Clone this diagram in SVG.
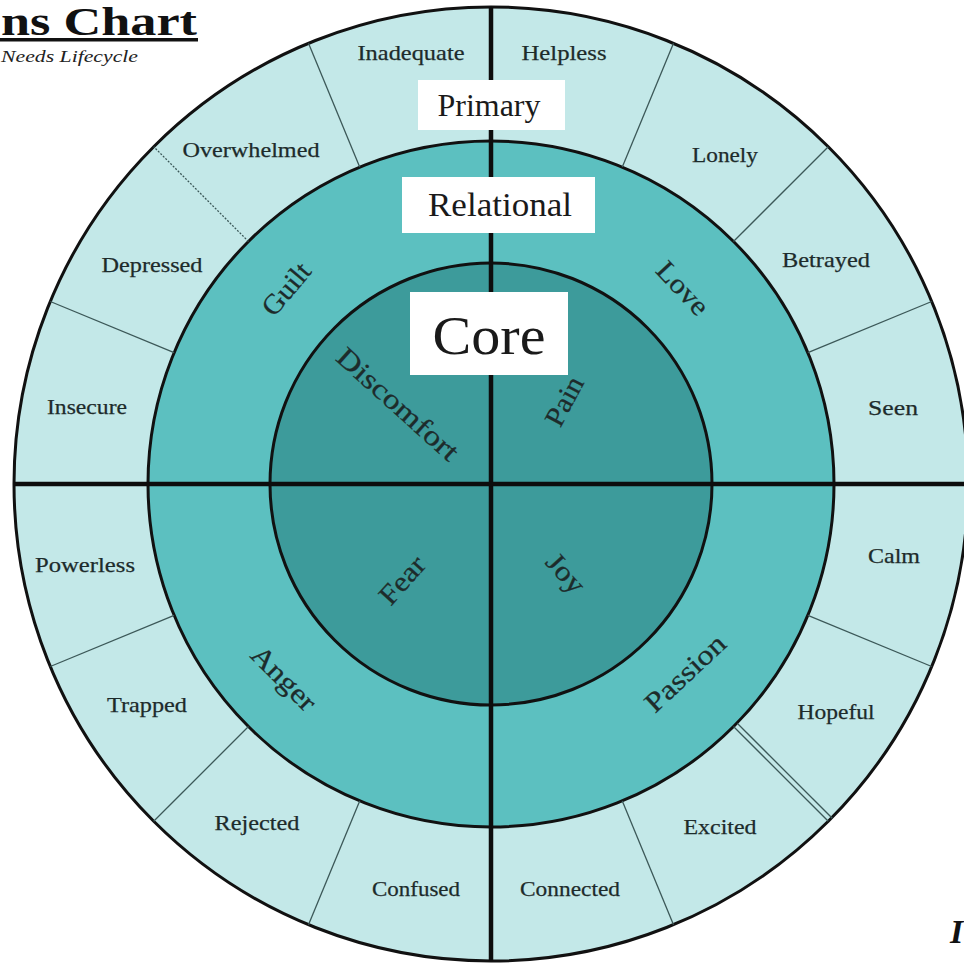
<svg xmlns="http://www.w3.org/2000/svg" width="964" height="963" viewBox="0 0 964 963">
  <style>
    .ring { stroke: #111; stroke-width: 3; }
    .outer { fill: #c3e8e8; }
    .middle { fill: #5cc0c0; }
    .inner { fill: #3d9b9b; }
    .cross { stroke: #0d0d0d; stroke-width: 4.5; fill: none; }
    .tick { stroke: #3c5858; stroke-width: 1.3; fill: none; }
    .lbl { font-family: "Liberation Serif", "Times New Roman", serif; fill: #1d2b2b; stroke: #1d2b2b; stroke-width: 0.25; text-anchor: middle; dominant-baseline: central; }
    .outer-lbl { font-size: 22px; }
    .ring-lbl { font-size: 28px; }
    .tag { fill: #ffffff; }
    .tag-text { font-family: "Liberation Serif", "Times New Roman", serif; fill: #1a1a1a; text-anchor: middle; dominant-baseline: central; }
  </style>

  <rect width="964" height="963" fill="#ffffff"/>

  <!-- title, cut at the left edge of the sheet -->
  <g id="title">
    <text x="1" y="35" font-family="Liberation Serif, Times New Roman, serif" font-weight="bold" font-size="41" textLength="196" lengthAdjust="spacingAndGlyphs" fill="#111">ns Chart</text>
    <rect x="0" y="38" width="198" height="3.5" fill="#111"/>
    <text x="1" y="62" font-family="Liberation Serif, Times New Roman, serif" font-style="italic" font-size="16" textLength="137" lengthAdjust="spacingAndGlyphs" fill="#222">Needs Lifecycle</text>
  </g>

  <!-- concentric rings -->
  <g id="wheel">
    <circle class="ring outer" cx="491" cy="484" r="477"/>
    <circle class="ring middle" cx="491" cy="484" r="343"/>
    <circle class="ring inner" cx="491" cy="484" r="221"/>
  </g>

  <!-- spokes and quadrant axes -->
  <g id="connectors">
    <line class="tick" x1="359.7" y1="167.1" x2="308.5" y2="43.3"/>
    <line class="tick" x1="248.5" y1="241.5" x2="153.7" y2="146.7" stroke-dasharray="2 1.5"/>
    <line class="tick" x1="174.1" y1="352.7" x2="50.3" y2="301.5"/>
    <line class="tick" x1="622.3" y1="167.1" x2="673.5" y2="43.3"/>
    <line class="tick" x1="733.5" y1="241.5" x2="828.3" y2="146.7"/>
    <line class="tick" x1="807.9" y1="352.7" x2="931.7" y2="301.5"/>
    <line class="tick" x1="807.9" y1="615.3" x2="931.7" y2="666.5"/>
    <line class="tick" x1="733.5" y1="726.5" x2="828.3" y2="821.3"/>
    <line class="tick" x1="737.5" y1="723.5" x2="832.3" y2="818.3"/>
    <line class="tick" x1="622.3" y1="800.9" x2="673.5" y2="924.7"/>
    <line class="tick" x1="359.7" y1="800.9" x2="308.5" y2="924.7"/>
    <line class="tick" x1="248.5" y1="726.5" x2="153.7" y2="821.3"/>
    <line class="tick" x1="174.1" y1="615.3" x2="50.3" y2="666.5"/>
    <line class="cross" x1="491" y1="7" x2="491" y2="961"/>
    <line class="cross" x1="14" y1="484" x2="964" y2="484"/>
  </g>

  <!-- outer ring: primary feelings -->
  <g id="primary-feelings">
    <text class="lbl outer-lbl" x="411" y="52" textLength="107" lengthAdjust="spacingAndGlyphs">Inadequate</text>
    <text class="lbl outer-lbl" x="564" y="52" textLength="85" lengthAdjust="spacingAndGlyphs">Helpless</text>
    <text class="lbl outer-lbl" x="251" y="149" textLength="137" lengthAdjust="spacingAndGlyphs">Overwhelmed</text>
    <text class="lbl outer-lbl" x="725" y="154" textLength="66" lengthAdjust="spacingAndGlyphs">Lonely</text>
    <text class="lbl outer-lbl" x="152" y="264" textLength="101" lengthAdjust="spacingAndGlyphs">Depressed</text>
    <text class="lbl outer-lbl" x="826" y="259" textLength="88" lengthAdjust="spacingAndGlyphs">Betrayed</text>
    <text class="lbl outer-lbl" x="87" y="406" textLength="80" lengthAdjust="spacingAndGlyphs">Insecure</text>
    <text class="lbl outer-lbl" x="893" y="407" textLength="50" lengthAdjust="spacingAndGlyphs">Seen</text>
    <text class="lbl outer-lbl" x="85" y="564" textLength="100" lengthAdjust="spacingAndGlyphs">Powerless</text>
    <text class="lbl outer-lbl" x="894" y="555" textLength="52" lengthAdjust="spacingAndGlyphs">Calm</text>
    <text class="lbl outer-lbl" x="147" y="704" textLength="80" lengthAdjust="spacingAndGlyphs">Trapped</text>
    <text class="lbl outer-lbl" x="836" y="711" textLength="77" lengthAdjust="spacingAndGlyphs">Hopeful</text>
    <text class="lbl outer-lbl" x="257" y="822" textLength="85" lengthAdjust="spacingAndGlyphs">Rejected</text>
    <text class="lbl outer-lbl" x="720" y="826" textLength="73" lengthAdjust="spacingAndGlyphs">Excited</text>
    <text class="lbl outer-lbl" x="416" y="888" textLength="88" lengthAdjust="spacingAndGlyphs">Confused</text>
    <text class="lbl outer-lbl" x="570" y="888" textLength="100" lengthAdjust="spacingAndGlyphs">Connected</text>
  </g>

  <!-- middle ring: relational feelings -->
  <g id="relational-feelings">
    <text class="lbl ring-lbl" transform="translate(286 289) rotate(-50)" textLength="60" lengthAdjust="spacingAndGlyphs">Guilt</text>
    <text class="lbl ring-lbl" transform="translate(683 288) rotate(47)" textLength="63" lengthAdjust="spacingAndGlyphs">Love</text>
    <text class="lbl ring-lbl" transform="translate(284 678) rotate(45)" textLength="80" lengthAdjust="spacingAndGlyphs">Anger</text>
    <text class="lbl ring-lbl" transform="translate(685 673) rotate(-43)" textLength="100" lengthAdjust="spacingAndGlyphs">Passion</text>
  </g>

  <!-- inner disc: core feelings -->
  <g id="core-feelings">
    <text class="lbl ring-lbl" transform="translate(398 404) rotate(42)" textLength="154" lengthAdjust="spacingAndGlyphs">Discomfort</text>
    <text class="lbl ring-lbl" transform="translate(564 401) rotate(-62)" textLength="52" lengthAdjust="spacingAndGlyphs">Pain</text>
    <text class="lbl ring-lbl" transform="translate(402 580) rotate(-48)" textLength="55" lengthAdjust="spacingAndGlyphs">Fear</text>
    <text class="lbl ring-lbl" transform="translate(566 573) rotate(48)" textLength="44" lengthAdjust="spacingAndGlyphs">Joy</text>
  </g>

  <!-- level tags on the vertical axis -->
  <g id="tag-primary">
    <rect class="tag" x="418" y="80" width="147" height="50"/>
    <text class="tag-text" x="489" y="105" font-size="31" textLength="103" lengthAdjust="spacingAndGlyphs">Primary</text>
  </g>
  <g id="tag-relational">
    <rect class="tag" x="402" y="177" width="193" height="56"/>
    <text class="tag-text" x="500" y="205" font-size="33" textLength="144" lengthAdjust="spacingAndGlyphs">Relational</text>
  </g>
  <g id="tag-core">
    <rect class="tag" x="410" y="292" width="158" height="83"/>
    <text class="tag-text" x="489" y="336" font-size="54" textLength="113" lengthAdjust="spacingAndGlyphs">Core</text>
  </g>

  <!-- corner mark, cut at the right edge -->
  <text x="950" y="943" font-family="Liberation Serif, Times New Roman, serif" font-weight="bold" font-style="italic" font-size="34" fill="#111">I</text>
</svg>
